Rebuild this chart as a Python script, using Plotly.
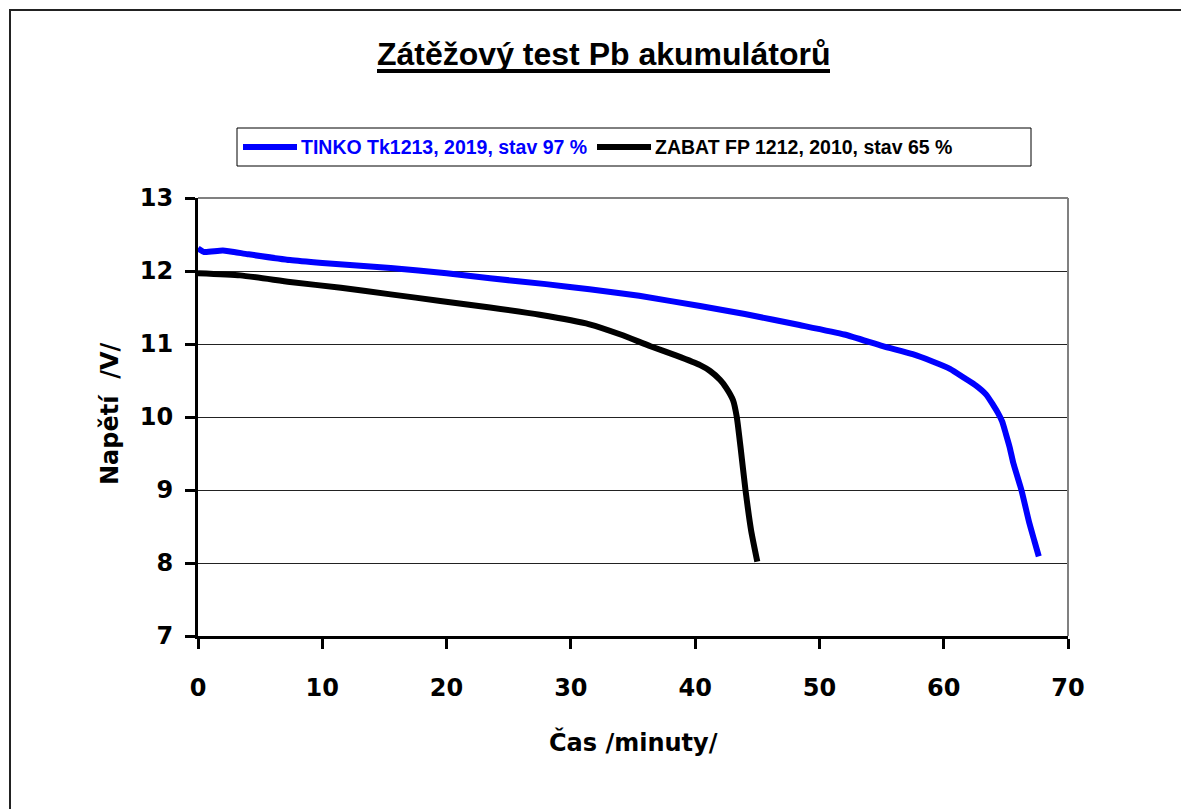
import plotly.graph_objects as go

# ---- data ----
tinko_t = [0, 0.5, 2, 4, 7.4, 10, 15.5, 20, 23.5, 28, 31.5, 35.5, 40.4, 44, 48.4, 52,
           55.1, 57.5, 59.1, 60.5, 61.7, 62.6, 63.4, 63.96, 64.35, 64.7, 65.0, 65.3, 65.6,
           66.25, 66.9, 67.3, 67.65]
tinko_v = [12.31, 12.26, 12.28, 12.23, 12.15, 12.11, 12.04, 11.97, 11.90, 11.82, 11.75,
           11.66, 11.52, 11.41, 11.26, 11.13, 10.97, 10.86, 10.76, 10.66, 10.53, 10.43,
           10.31, 10.17, 10.06, 9.94, 9.77, 9.59, 9.37, 9.0, 8.54, 8.30, 8.09]

zabat_t = [0, 3.4, 7.4, 11.5, 15.5, 19.5, 23.5, 27.5, 31.5, 34, 36.4, 38.5, 40.4, 41.2,
           42.0, 42.5, 43.05, 43.35, 43.65, 44.05, 44.5, 45.0]
zabat_v = [11.97, 11.94, 11.85, 11.77, 11.68, 11.59, 11.50, 11.40, 11.27, 11.13, 10.97,
           10.84, 10.71, 10.63, 10.51, 10.40, 10.23, 10.0, 9.59, 9.0, 8.45, 8.02]

series_names = ["TINKO Tk1213, 2019, stav 97 %", "ZABAT FP 1212, 2010, stav 65 %"]
series_colors = ["#0000FF", "#000000"]
x_ticks = [0, 10, 20, 30, 40, 50, 60, 70]
y_ticks = [7, 8, 9, 10, 11, 12, 13]
title_text = "Zátěžový test Pb akumulátorů"
x_title = "Čas /minuty/"
y_title = "Napětí\u00a0 /V/"

# ---- geometry (screen px; page body adds an 8px offset) ----
OFF = 8
W, H = 1189 - OFF, 809 - OFF
L, R, T, B = 198 - OFF, 1068 - OFF, 198 - OFF, 636 - OFF
FONT = "DejaVu Sans"
TFONT = "Liberation Sans"


def px(x):
    return (x - OFF - L) / (R - L)


def py(y):
    return (B - (y - OFF)) / (B - T)


fig = go.Figure()
for t, v, c, n in [(tinko_t, tinko_v, series_colors[0], series_names[0]),
                   (zabat_t, zabat_v, series_colors[1], series_names[1])]:
    fig.add_trace(go.Scatter(x=t, y=v, mode="lines", name=n,
                             line=dict(color=c, width=6, shape="spline", smoothing=0.5),
                             showlegend=False))

axis_font = dict(family=FONT, size=24, color="black", weight="bold")

fig.update_layout(
    width=W, height=H,
    margin=dict(l=L, r=W - R, t=T, b=H - B, pad=0),
    paper_bgcolor="white", plot_bgcolor="white",
    xaxis=dict(range=[0, 70], tickvals=x_ticks, ticks="outside", ticklen=10,
               tickwidth=3, tickcolor="black", showline=True, linecolor="black",
               linewidth=3, showgrid=False, zeroline=False, tickfont=axis_font,
               ticklabelstandoff=18),
    yaxis=dict(range=[7, 13], tickvals=y_ticks, ticks="outside", ticklen=10,
               tickwidth=3, tickcolor="black", showline=True, linecolor="black",
               linewidth=3, showgrid=True, gridcolor="#222222", gridwidth=1,
               zeroline=False, tickfont=axis_font, ticklabelstandoff=7),
    showlegend=False,
)

shapes = []
# outer chart border
shapes.append(dict(type="rect", xref="paper", yref="paper",
                   x0=px(10), x1=px(1200), y0=py(10), y1=py(820),
                   line=dict(color="#222222", width=2), layer="below"))
# plot-area top and right borders (gray)
shapes.append(dict(type="line", xref="paper", yref="paper", x0=0, x1=1, y0=1, y1=1,
                   line=dict(color="#808080", width=2), layer="above"))
shapes.append(dict(type="line", xref="paper", yref="paper", x0=1, x1=1, y0=0, y1=1,
                   line=dict(color="#808080", width=2), layer="above"))
# title underline
shapes.append(dict(type="line", xref="paper", yref="paper", x0=px(377), x1=px(830),
                   y0=py(71), y1=py(71), line=dict(color="black", width=4)))
# legend box
shapes.append(dict(type="rect", xref="paper", yref="paper",
                   x0=px(237), x1=px(1031), y0=py(166), y1=py(128),
                   line=dict(color="black", width=1), fillcolor="white", layer="above"))
# legend samples
shapes.append(dict(type="line", xref="paper", yref="paper", x0=px(243), x1=px(297),
                   y0=py(147), y1=py(147), line=dict(color=series_colors[0], width=6)))
shapes.append(dict(type="line", xref="paper", yref="paper", x0=px(597), x1=px(651),
                   y0=py(147), y1=py(147), line=dict(color=series_colors[1], width=6)))
fig.update_layout(shapes=shapes)

annotations = [
    dict(text=title_text, x=px(603), y=py(54), xref="paper", yref="paper",
         showarrow=False, xanchor="center", yanchor="middle",
         font=dict(family=TFONT, size=32, color="black", weight="bold")),
    dict(text=series_names[0], x=px(299), y=py(147), xref="paper", yref="paper",
         showarrow=False, xanchor="left", yanchor="middle",
         font=dict(family=TFONT, size=19.5, color=series_colors[0], weight="bold")),
    dict(text=series_names[1], x=px(653), y=py(147), xref="paper", yref="paper",
         showarrow=False, xanchor="left", yanchor="middle",
         font=dict(family=TFONT, size=19.5, color=series_colors[1], weight="bold")),
    dict(text=x_title, x=px(633), y=py(742), xref="paper", yref="paper",
         showarrow=False, xanchor="center", yanchor="middle",
         font=dict(family=FONT, size=24, color="black", weight="bold")),
    dict(text=y_title, x=px(110), y=py(414), xref="paper", yref="paper",
         showarrow=False, xanchor="center", yanchor="middle", textangle=-90,
         font=dict(family=FONT, size=24, color="black", weight="bold")),
]
fig.update_layout(annotations=annotations)

fig.write_html("out.html")
